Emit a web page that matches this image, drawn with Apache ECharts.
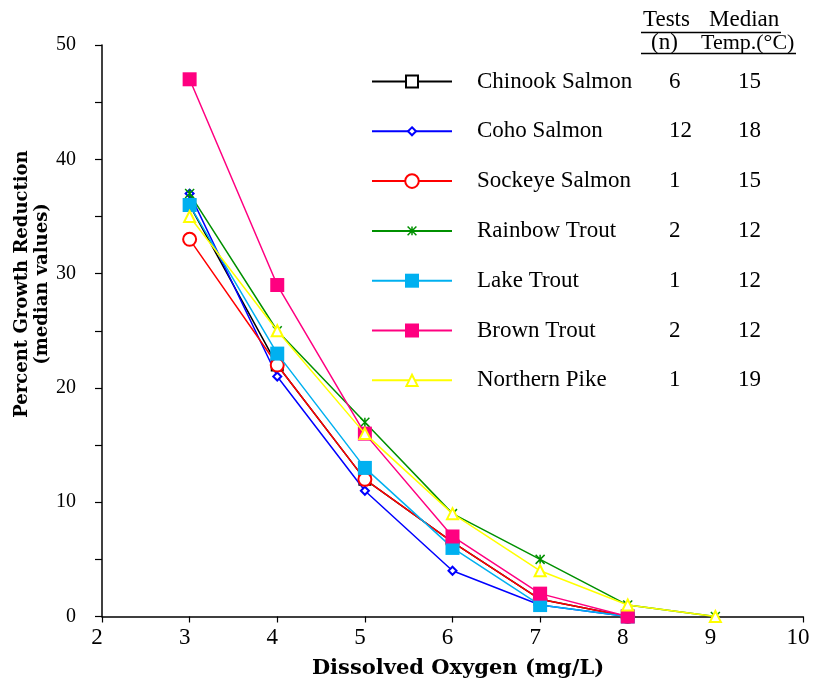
<!DOCTYPE html>
<html><head><meta charset="utf-8">
<script src="https://cdn.jsdelivr.net/npm/echarts@6/dist/echarts.min.js"></script>
<style>html,body{margin:0;padding:0;background:#fff}#c{width:814px;height:685px}</style>
</head><body><div id="c"></div>
<script>
// ---- data ----
const oxygen = [3, 4, 5, 6, 7, 8, 9];
const seriesNames = ['Chinook Salmon', 'Coho Salmon', 'Sockeye Salmon', 'Rainbow Trout', 'Lake Trout', 'Brown Trout', 'Northern Pike'];
const chinook = [36, 22, 12, 6.5, 1.5, 0, null];
const coho = [37, 21, 11, 4, 1, 0, null];
const sockeye = [33, 22, 12, 6.5, 1.5, 0, null];
const rainbow = [37, 25, 17, 9, 5, 1, 0];
const lake = [36, 23, 13, 6, 1, 0, null];
const brown = [47, 29, 16, 7, 2, 0, null];
const pike = [35, 25, 16, 9, 4, 1, 0];
const testsN = [6, 12, 1, 2, 1, 2, 1];
const medianTemp = [15, 18, 15, 12, 12, 12, 19];
const xRange = [2, 10];
const xStep = 1;
const yRange = [0, 50];
const yStep = 10;
const headerRow1 = ['Tests', 'Median'];
const headerRow2 = ['(n)', 'Temp.(°C)'];

// ---- styles ----
const values = [chinook, coho, sockeye, rainbow, lake, brown, pike];
const styles = [
  {color: '#000000', symbol: 'emptyRect', size: 11, bw: 1.2, legendH: 15},
  {color: '#0000FF', symbol: 'emptyDiamond', size: 8, bw: 1.5, legendH: 10},
  {color: '#FF0000', symbol: 'emptyCircle', size: 13, bw: 2, legendH: 17},
  {color: '#009000', symbol: 'path://M0,0L10,10M10,0L0,10M5,0L5,10', size: 9, bw: 1.5, legendH: 11},
  {color: '#00B0F0', symbol: 'rect', size: 14, bw: 0, legendH: 17.5},
  {color: '#FF0080', symbol: 'rect', size: 14, bw: 0, legendH: 17.5},
  {color: '#FFFF00', symbol: 'emptyTriangle', size: 11, bw: 1.5, legendH: 14}
];
const serif = '"Liberation Serif", "Times New Roman", serif';
const titleFont = '"DejaVu Serif", serif';

const series = seriesNames.map((name, i) => ({
  name: name,
  type: 'line',
  data: oxygen.map((x, j) => values[i][j] == null ? null : [x, values[i][j]]).filter(d => d),
  symbol: styles[i].symbol,
  symbolSize: styles[i].size,
  showAllSymbol: true,
  lineStyle: {color: styles[i].color, width: 1.5},
  itemStyle: {color: styles[i].color, borderColor: styles[i].color, borderWidth: styles[i].bw},
  emphasis: {disabled: true},
  z: 2 + i
}));

const legends = seriesNames.map((name, i) => ({
  data: [name],
  orient: 'vertical',
  left: 371,
  top: 70 + i * 49.8,
  padding: 0,
  itemWidth: 80,
  itemHeight: styles[i].legendH,
  selectedMode: false,
  itemStyle: {borderWidth: styles[i].bw},
  formatter: () => `{n|${name}}{t|${testsN[i]}}{m|${medianTemp[i]}}`,
  textStyle: {
    rich: {
      n: {fontFamily: serif, fontSize: 23, color: '#000', width: 192, padding: [0, 0, 0, 20], lineHeight: 26},
      t: {fontFamily: serif, fontSize: 23, color: '#000', width: 69, lineHeight: 26},
      m: {fontFamily: serif, fontSize: 23, color: '#000', lineHeight: 26}
    }
  }
}));

const txt = (t, x, y, opts) => ({
  type: 'text', x: x, y: y, silent: true,
  rotation: opts.rotation || 0,
  style: Object.assign({text: t, fill: '#000', fontFamily: serif, fontSize: 23,
    align: opts.align || 'left', verticalAlign: 'middle',
    textAlign: opts.align || 'left', textVerticalAlign: 'middle'}, opts.style || {})
});
const ln = (x1, y1, x2, y2) => ({type: 'line', silent: true, shape: {x1, y1, x2, y2}, style: {stroke: '#000', lineWidth: 1.5}});

const graphic = [
  txt(headerRow1[0], 643, 20, {}),
  txt(headerRow1[1], 709, 20, {}),
  ln(641, 32.5, 781, 32.5),
  txt(headerRow2[0], 651, 43, {}),
  txt(headerRow2[1], 701, 43, {style: {fontSize: 22}}),
  ln(641, 53.5, 796, 53.5),
  txt('Dissolved Oxygen (mg/L)', 458, 669, {align: 'center', style: {fontFamily: titleFont, fontWeight: 'bold', fontSize: 21}}),
  txt('Percent Growth Reduction\n(median values)', 32, 284, {align: 'center', rotation: Math.PI / 2,
    style: {fontFamily: titleFont, fontWeight: 'bold', fontSize: 18, lineHeight: 20}})
];

const chart = echarts.init(document.getElementById('c'), null, {renderer: 'canvas'});
chart.setOption({
  animation: false,
  backgroundColor: '#fff',
  grid: {left: 102, right: 11, top: 45, bottom: 68.5, containLabel: false},
  xAxis: {
    type: 'value', min: xRange[0], max: xRange[1], interval: xStep,
    axisLine: {lineStyle: {color: '#000', width: 1.5}},
    axisTick: {length: 6, lineStyle: {color: '#000', width: 1.2}},
    axisLabel: {color: '#000', fontFamily: serif, fontSize: 23, margin: 10, padding: [0, 10, 0, 0]},
    splitLine: {show: false}
  },
  yAxis: {
    type: 'value', min: yRange[0], max: yRange[1], interval: yStep,
    axisLine: {show: true, lineStyle: {color: '#000', width: 1.5}},
    axisTick: {show: true, length: 7, lineStyle: {color: '#000', width: 1.2}},
    minorTick: {show: true, splitNumber: 2, length: 7, lineStyle: {color: '#000', width: 1.2}},
    axisLabel: {color: '#000', fontFamily: serif, fontSize: 20, margin: 26},
    splitLine: {show: false}
  },
  legend: legends,
  graphic: graphic,
  series: series
});
</script></body></html>
